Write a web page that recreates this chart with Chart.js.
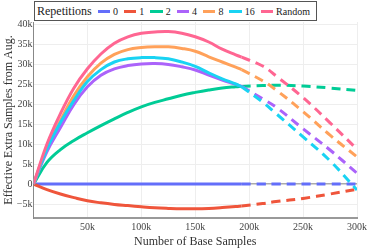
<!DOCTYPE html>
<html>
<head>
<meta charset="utf-8">
<script src="https://cdn.jsdelivr.net/npm/chart.js@4.4.0/dist/chart.umd.min.js"></script>
<style>
  body { margin: 0; background: #fff; }
  #wrap { position: relative; width: 373px; height: 249px; }
  #legend {
    position: absolute; left: 34px; top: 1px; width: 283px; height: 20px;
    box-sizing: border-box; border: 1px solid #555; background: #fff;
    display: flex; align-items: center; font-family: "Liberation Serif", serif;
    color: #222; padding-left: 2px;
  }
  #legend .title { font-size: 12px; margin-right: 6px; }
  #legend .swatch { width: 15px; height: 3px; margin-right: 3px; }
  #legend .lbl { font-size: 10px; margin-right: 6px; }
</style>
</head>
<body>
<div id="wrap">
  <canvas id="chart" width="373" height="249"></canvas>
  <div id="legend"></div>
</div>
<script>
// sample positions: measured part, then the extrapolated (dashed) part
const xSolid = [0, 12500, 25000, 37500, 50000, 62500, 75000, 87500, 100000, 112500, 125000,
                137500, 150000, 162500, 175000, 187500, 193000];
const xDashed = [193000, 212500, 225000, 250000, 275000, 300000];

const seriesNames = ['0', '1', '2', '4', '8', '16', 'Random'];
const seriesColors = ['#636EFA', '#EF553B', '#00CC96', '#AB63FA', '#FFA15A', '#19D3F3', '#FF6692'];

const rep0Solid = [0, 0, 0, 0, 0, 0, 0, 0, 0, 0, 0, 0, 0, 0, 0, 0, 0];
const rep0Dashed = [0, 0, 0, 0, 0, 0];
const rep1Solid = [0, -1400, -2500, -3400, -4200, -4700, -5100, -5400, -5700, -5950, -6100,
                   -6200, -6200, -6100, -5900, -5650, -5500];
const rep1Dashed = [-5500, -4900, -4400, -3600, -2500, -1300];
const rep2Solid = [0, 5400, 8600, 10900, 12800, 14600, 16300, 17900, 19300, 20400, 21300,
                   22200, 22900, 23500, 24000, 24300, 24400];
const rep2Dashed = [24400, 24600, 24700, 24500, 24000, 23400];
const rep4Solid = [0, 8100, 14100, 19900, 24300, 27200, 28800, 29600, 30000, 30100, 29900,
                   29300, 28500, 27200, 26000, 24900, 24400];
const rep4Dashed = [24400, 21300, 19200, 13800, 8500, 2700];
const rep8Solid = [0, 9100, 15900, 22100, 26800, 30200, 32400, 33600, 34100, 34300, 34300,
                   33900, 33200, 31800, 30500, 29200, 28600];
const rep8Dashed = [28600, 25800, 23500, 18100, 12200, 6800];
const rep16Solid = [0, 8800, 15400, 20900, 25600, 28600, 30500, 31300, 31600, 31600, 31300,
                    30500, 29400, 27800, 26300, 25000, 24300];
const rep16Dashed = [24300, 20500, 17600, 11800, 5800, -1500];
const randomSolid = [0, 10000, 17600, 24000, 28800, 32500, 35200, 36800, 37700, 38000, 38100,
                     37700, 36800, 35500, 33700, 32300, 31700];
const randomDashed = [31700, 29500, 27000, 21600, 15300, 8700];

const solidValues = [rep0Solid, rep1Solid, rep2Solid, rep4Solid, rep8Solid, rep16Solid, randomSolid];
const dashedValues = [rep0Dashed, rep1Dashed, rep2Dashed, rep4Dashed, rep8Dashed, rep16Dashed, randomDashed];

const xTickValues = [50000, 100000, 150000, 200000, 250000, 300000];
const yTickValues = [-5000, 0, 5000, 10000, 15000, 20000, 25000, 30000, 35000, 40000];

function toPoints(xs, ys) {
    return xs.map((x, i) => ({ x: x, y: ys[i] }));
}

function kLabel(v) {
    if (v === 0) return '0';
    const s = Math.abs(v / 1000) + 'k';
    return v < 0 ? '\u2212' + s : s;
}

const datasets = [];
seriesNames.forEach((name, i) => {
    const common = {
        borderColor: seriesColors[i],
        borderWidth: 3,
        pointRadius: 0,
        fill: false,
        tension: 0.4,
        order: seriesNames.length - i
    };
    datasets.push(Object.assign({ label: name, data: toPoints(xSolid, solidValues[i]) }, common));
    datasets.push(Object.assign({ label: name + ' extrap', data: toPoints(xDashed, dashedValues[i]), borderDash: [9, 6] }, common));
});

// legend box
const legend = document.getElementById('legend');
legend.innerHTML = '<span class="title">Repetitions</span>' + seriesNames.map((n, i) =>
    '<span class="swatch" style="background:' + seriesColors[i] + '"></span><span class="lbl">' + n + '</span>').join('');

const tickFont = { family: 'Liberation Serif', size: 10 };
const titleFont = { family: 'Liberation Serif', size: 12 };

new Chart(document.getElementById('chart').getContext('2d'), {
    type: 'line',
    data: { datasets: datasets },
    options: {
        responsive: false,
        animation: false,
        devicePixelRatio: 1,
        layout: { padding: { left: 0, right: 16, top: 22, bottom: 0 } },
        plugins: { legend: { display: false }, tooltip: { enabled: false } },
        scales: {
            x: {
                type: 'linear',
                min: 0,
                max: 300000,
                afterBuildTicks: scale => { scale.ticks = xTickValues.map(v => ({ value: v })); },
                afterFit: scale => { scale.height = 31; },
                ticks: { font: tickFont, color: '#444', padding: 3, maxRotation: 0, callback: v => kLabel(v) },
                grid: { color: '#eeeeee', drawTicks: false },
                border: { color: '#999', width: 2 },
                title: { display: true, text: 'Number of Base Samples', font: titleFont, color: '#333', padding: { top: 0, bottom: 0 } }
            },
            y: {
                min: -8500,
                max: 40500,
                afterBuildTicks: scale => { scale.ticks = yTickValues.map(v => ({ value: v })); },
                afterFit: scale => { scale.width = 33.5; },
                ticks: { font: tickFont, color: '#444', padding: 1, callback: v => kLabel(v) },
                grid: {
                    drawTicks: false,
                    color: ctx => (ctx.tick && ctx.tick.value === 0 ? '#aaaaaa' : '#eeeeee'),
                    lineWidth: ctx => (ctx.tick && ctx.tick.value === 0 ? 1.5 : 1)
                },
                border: { color: '#888', width: 1 },
                title: { display: true, text: 'Effective Extra Samples from Aug.', font: titleFont, color: '#333', padding: { top: 2, bottom: 0 } }
            }
        }
    }
});
</script>
</body>
</html>
